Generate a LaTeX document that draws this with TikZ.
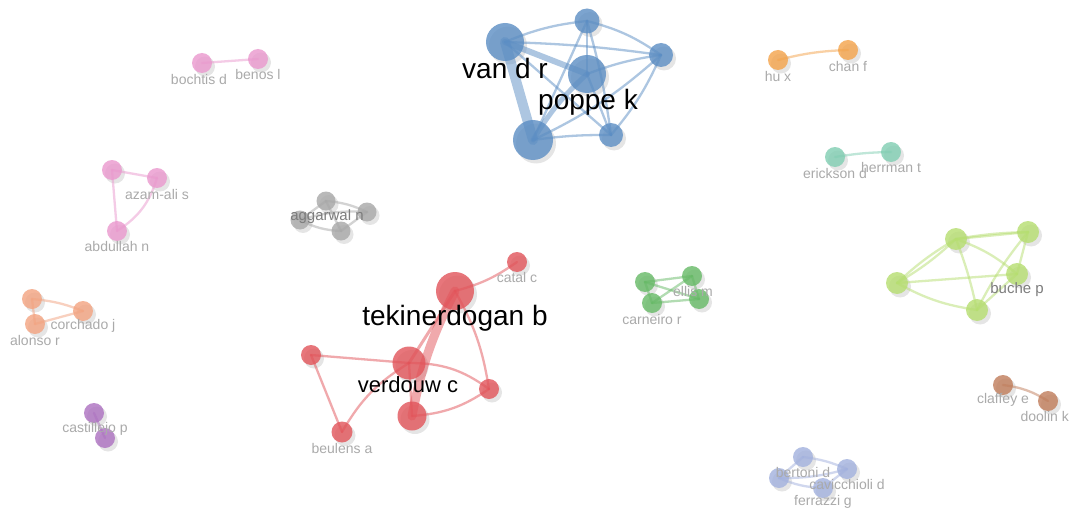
\documentclass[tikz,border=0pt]{standalone}
\usepackage{fontspec}
\setmainfont{Liberation Sans}
\usetikzlibrary{shadows}

% cluster colours
\definecolor{cBlue}{RGB}{92,142,196}
\definecolor{cRed}{RGB}{226,84,90}
\definecolor{cPink}{RGB}{234,152,206}
\definecolor{cGray}{RGB}{168,168,168}
\definecolor{cSalmon}{RGB}{243,163,128}
\definecolor{cPurple}{RGB}{172,112,192}
\definecolor{cOrange}{RGB}{244,163,74}
\definecolor{cTeal}{RGB}{128,206,178}
\definecolor{cGreen}{RGB}{102,186,102}
\definecolor{cLime}{RGB}{182,222,112}
\definecolor{cBrown}{RGB}{192,124,90}
\definecolor{cPeri}{RGB}{162,177,222}
\definecolor{labGray}{RGB}{170,170,170}
\definecolor{labDark}{RGB}{125,125,125}

\begin{document}
\begin{tikzpicture}[x=1pt,y=-1pt,
  au/.style 2 args={circle, inner sep=0pt, minimum size=#2, fill=#1, draw=none,
    fill opacity=0.8,
    drop shadow={shadow xshift=3pt, shadow yshift=-3.5pt, opacity=0.1, fill=black}},
  ln/.style={line width=2.3pt, draw opacity=0.5, line cap=round},
  lab/.style={font=\fontsize{14}{14}\selectfont, text=labGray, inner sep=0pt},
  labmid/.style={font=\fontsize{15}{15}\selectfont, text=labDark, inner sep=0pt},
  labbig/.style={font=\fontsize{28}{28}\selectfont, text=black, inner sep=0pt},
]
\fill[white] (0,0) rectangle (1070,508);
\useasboundingbox (0,0) rectangle (1070,508);

% ---------- blue cluster ----------
\node[au={cBlue}{38pt}] (vdr) at (505,42) {};
\node[au={cBlue}{25pt}] (bt) at (587,21) {};
\node[au={cBlue}{24pt}] (br) at (661,55) {};
\node[au={cBlue}{38pt}] (pk) at (587,74) {};
\node[au={cBlue}{40pt}] (bbl) at (533,140) {};
\node[au={cBlue}{24pt}] (bbr) at (611,135) {};
\begin{scope}[ln, draw=cBlue]
  \draw (vdr.center) to[bend left=8] (bt.center);
  \draw (vdr.center) to[bend left=3] (br.center);
  \draw[line width=6pt] (vdr.center) -- (pk.center);
  \draw[line width=10pt] (vdr.center) -- (bbl.center);
  \draw (vdr.center) -- (bbr.center);
  \draw (bt.center) to[bend left=10] (br.center);
  \draw (bt.center) -- (pk.center);
  \draw (bt.center) -- (bbl.center);
  \draw (bt.center) to[bend left=4] (bbr.center);
  \draw (br.center) to[bend right=6] (pk.center);
  \draw (br.center) to[bend left=8] (bbl.center);
  \draw (br.center) to[bend left=8] (bbr.center);
  \draw[line width=5pt] (pk.center) to[bend right=8] (bbl.center);
  \draw (pk.center) -- (bbr.center);
  \draw (bbl.center) to[bend left=4] (bbr.center);
\end{scope}
\node[labbig] (l-vdr) at (505,68) {van d r};
\node[labbig] (l-pk) at (588,102) {poppe k};

% ---------- red cluster ----------
\node[au={cRed}{38pt}] (tek) at (455,291) {};
\node[au={cRed}{20pt}] (cat) at (517,262) {};
\node[au={cRed}{33pt}] (ver) at (409,363) {};
\node[au={cRed}{20pt}] (rl) at (311,355) {};
\node[au={cRed}{20pt}] (rr) at (489,389) {};
\node[au={cRed}{29pt}] (rb) at (412,416) {};
\node[au={cRed}{21pt}] (beu) at (342,432) {};
\begin{scope}[ln, draw=cRed]
  \draw (tek.center) to[bend right=10] (cat.center);
  \draw[line width=9pt] (tek.center) to[bend right=8] (rb.center);
  \draw[line width=3pt] (tek.center) -- (ver.center);
  \draw (tek.center) to[bend left=10] (rr.center);
  \draw (rl.center) -- (ver.center);
  \draw (rl.center) -- (beu.center);
  \draw (beu.center) to[bend left=14] (ver.center);
  \draw (ver.center) to[bend left=18] (rr.center);
  \draw (rb.center) to[bend right=15] (rr.center);
  \draw (ver.center) -- (rb.center);
\end{scope}
\node[labbig] (l-tek) at (455,318) {tekinerdogan b};
\node[labbig, font=\fontsize{22}{22}\selectfont] (l-ver) at (408,385) {verdouw c};
\node[lab] (l-cat) at (517,277) {catal c};
\node[lab] (l-beu) at (342,448) {beulens a};

% ---------- pink pair ----------
\node[au={cPink}{20pt}] (boc) at (202,63) {};
\node[au={cPink}{20pt}] (ben) at (258,59) {};
\draw[ln, draw=cPink] (boc.center) -- (ben.center);
\node[lab] (l-boc) at (199,79) {bochtis d};
\node[lab] (l-ben) at (258,74) {benos l};

% ---------- pink trio ----------
\node[au={cPink}{20pt}] (pa) at (112,170) {};
\node[au={cPink}{20pt}] (aza) at (157,178) {};
\node[au={cPink}{20pt}] (abd) at (117,231) {};
\begin{scope}[ln, draw=cPink]
  \draw (pa.center) -- (aza.center);
  \draw (pa.center) -- (abd.center);
  \draw (aza.center) to[bend left=20] (abd.center);
\end{scope}
\node[lab] (l-aza) at (157,194) {azam-ali s};
\node[lab] (l-abd) at (117,246) {abdullah n};

% ---------- grey cluster ----------
\node[au={cGray}{19pt}] (g1) at (326,201) {};
\node[au={cGray}{19pt}] (g2) at (367,212) {};
\node[au={cGray}{19pt}] (g3) at (300,220) {};
\node[au={cGray}{19pt}] (g4) at (341,231) {};
\begin{scope}[ln, draw=cGray]
  \draw (g1.center) to[bend left=10] (g2.center);
  \draw (g1.center) -- (g4.center);
  \draw (g3.center) -- (g1.center);
  \draw (g3.center) to[bend right=12] (g4.center);
  \draw (g3.center) to[bend left=10] (g2.center);
  \draw (g2.center) -- (g4.center);
\end{scope}
\node[labmid] (l-agg) at (327,217) {aggarwal n};

% ---------- salmon cluster ----------
\node[au={cSalmon}{20pt}] (s1) at (32,299) {};
\node[au={cSalmon}{20pt}] (s2) at (35,324) {};
\node[au={cSalmon}{20pt}] (s3) at (83,311) {};
\begin{scope}[ln, draw=cSalmon]
  \draw (s1.center) -- (s2.center);
  \draw (s1.center) to[bend left=8] (s3.center);
  \draw (s2.center) -- (s3.center);
\end{scope}
\node[lab] (l-cor) at (83,326) {corchado j};
\node[lab] (l-alo) at (35,340) {alonso r};

% ---------- purple pair ----------
\node[au={cPurple}{20pt}] (pu1) at (94,413) {};
\node[au={cPurple}{20pt}] (pu2) at (105,438) {};
\draw[ln, draw=cPurple] (pu1.center) -- (pu2.center);
\node[lab] (l-cas) at (95,429) {castillejo p};

% ---------- orange pair ----------
\node[au={cOrange}{20pt}] (hu) at (778,60) {};
\node[au={cOrange}{20pt}] (chan) at (848,50) {};
\draw[ln, draw=cOrange] (hu.center) to[bend left=6] (chan.center);
\node[lab] (l-hu) at (778,76) {hu x};
\node[lab] (l-chan) at (848,66) {chan f};

% ---------- teal pair ----------
\node[au={cTeal}{20pt}] (eri) at (835,157) {};
\node[au={cTeal}{20pt}] (her) at (891,152) {};
\draw[ln, draw=cTeal] (eri.center) to[bend left=4] (her.center);
\node[lab] (l-eri) at (835,173) {erickson d};
\node[lab] (l-her) at (891,167) {herrman t};

% ---------- green cluster ----------
\node[au={cGreen}{20pt}] (c1) at (645,282) {};
\node[au={cGreen}{20pt}] (c2) at (692,276) {};
\node[au={cGreen}{20pt}] (c3) at (652,303) {};
\node[au={cGreen}{20pt}] (c4) at (699,299) {};
\begin{scope}[ln, draw=cGreen]
  \draw (c1.center) -- (c2.center);
  \draw (c1.center) -- (c4.center);
  \draw (c1.center) -- (c3.center);
  \draw (c3.center) -- (c2.center);
  \draw (c3.center) -- (c4.center);
  \draw (c2.center) -- (c4.center);
\end{scope}
\node[lab] (l-ell) at (693,291) {ellis m};
\node[lab] (l-car) at (652,319) {carneiro r};

% ---------- lime cluster ----------
\node[au={cLime}{22pt}] (m1) at (897,283) {};
\node[au={cLime}{22pt}] (m2) at (956,239) {};
\node[au={cLime}{22pt}] (m3) at (1028,232) {};
\node[au={cLime}{22pt}] (m4) at (1017,274) {};
\node[au={cLime}{22pt}] (m5) at (977,310) {};
\begin{scope}[ln, draw=cLime]
  \draw (m1.center) to[bend left=6] (m2.center);
  \draw (m1.center) to[bend right=6] (m2.center);
  \draw (m1.center) -- (m4.center);
  \draw (m1.center) to[bend right=10] (m5.center);
  \draw (m2.center) to[bend left=4] (m3.center);
  \draw (m2.center) -- (m3.center);
  \draw (m2.center) to[bend left=10] (m4.center);
  \draw (m2.center) to[bend left=4] (m5.center);
  \draw (m3.center) -- (m4.center);
  \draw (m3.center) to[bend right=6] (m5.center);
  \draw (m4.center) -- (m5.center);
\end{scope}
\node[labmid] (l-buc) at (1017,290) {buche p};

% ---------- brown pair ----------
\node[au={cBrown}{20pt}] (cla) at (1003,385) {};
\node[au={cBrown}{20pt}] (doo) at (1048,401) {};
\draw[ln, draw=cBrown] (cla.center) to[bend left=12] (doo.center);
\node[lab] (l-cla) at (1003,400) {claffey e};
\node[lab, anchor=east] (l-doo) at (1069,416) {doolin k};

% ---------- periwinkle cluster ----------
\node[au={cPeri}{20pt}] (b1) at (803,457) {};
\node[au={cPeri}{20pt}] (b2) at (847,469) {};
\node[au={cPeri}{20pt}] (b3) at (779,478) {};
\node[au={cPeri}{20pt}] (b4) at (823,488) {};
\begin{scope}[ln, draw=cPeri]
  \draw (b1.center) to[bend left=8] (b2.center);
  \draw (b3.center) -- (b1.center);
  \draw (b3.center) to[bend right=8] (b2.center);
  \draw (b3.center) to[bend right=10] (b4.center);
  \draw (b4.center) -- (b2.center);
\end{scope}
\node[lab] (l-ber) at (803,472) {bertoni d};
\node[lab] (l-cav) at (847,484) {cavicchioli d};
\node[lab] (l-fer) at (823,502) {ferrazzi g};
\end{tikzpicture}
\end{document}
